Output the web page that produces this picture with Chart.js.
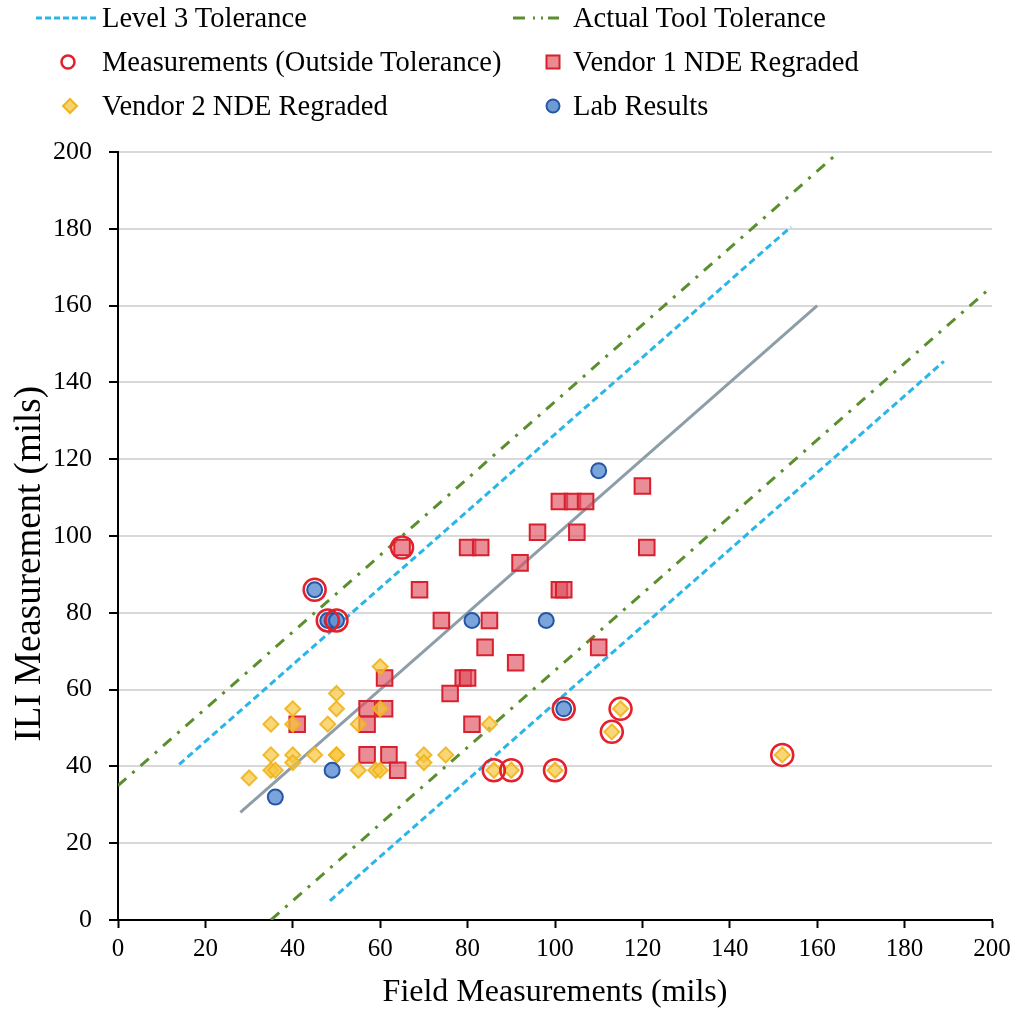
<!DOCTYPE html>
<html>
<head>
<meta charset="utf-8">
<script src="https://cdn.jsdelivr.net/npm/chart.js@4.4.1/dist/chart.umd.min.js"></script>
<style>
  body { margin: 0; background: #fff; }
  #wrap { position: relative; width: 1018px; height: 1012px; }
  .lg { position: absolute; font-family: "Liberation Serif", serif; font-size: 28.5px; color: #000; line-height: 30px; white-space: nowrap; }
  .ic { position: absolute; }
</style>
</head>
<body>
<div id="wrap">
  <canvas id="chart" width="1018" height="1012"></canvas>

  <!-- legend -->
  <svg class="ic" style="left:30px;top:8px" width="72" height="20"><line x1="6" y1="10" x2="68" y2="10" stroke="#29b5e8" stroke-width="3" stroke-dasharray="6,3"/></svg>
  <div class="lg" style="left:102px;top:3px">Level 3 Tolerance</div>
  <svg class="ic" style="left:508px;top:8px" width="56" height="20">
    <line x1="5" y1="10" x2="17" y2="10" stroke="#5b8f2e" stroke-width="3"/>
    <line x1="25" y1="10" x2="27" y2="10" stroke="#5b8f2e" stroke-width="3"/>
    <line x1="33" y1="10" x2="35" y2="10" stroke="#5b8f2e" stroke-width="3"/>
    <line x1="40" y1="10" x2="51" y2="10" stroke="#5b8f2e" stroke-width="3"/>
  </svg>
  <div class="lg" style="left:573px;top:3px">Actual Tool Tolerance</div>

  <svg class="ic" style="left:58px;top:52px" width="20" height="20"><circle cx="10" cy="10" r="6.5" fill="none" stroke="#e3202b" stroke-width="2.5"/></svg>
  <div class="lg" style="left:102px;top:47px">Measurements (Outside Tolerance)</div>
  <svg class="ic" style="left:543px;top:52px" width="20" height="20"><rect x="3.5" y="3.5" width="13" height="13" fill="rgba(225,90,100,0.7)" stroke="#d8202e" stroke-width="2"/></svg>
  <div class="lg" style="left:573px;top:47px">Vendor 1 NDE Regraded</div>

  <svg class="ic" style="left:60px;top:96px" width="20" height="20"><polygon points="10,3 17,10 10,17 3,10" fill="rgba(246,200,70,0.8)" stroke="#f0b41e" stroke-width="2"/></svg>
  <div class="lg" style="left:102px;top:91px">Vendor 2 NDE Regraded</div>
  <svg class="ic" style="left:543px;top:96px" width="20" height="20"><circle cx="10" cy="10" r="6.5" fill="#6e9bd6" stroke="#2456a6" stroke-width="2"/></svg>
  <div class="lg" style="left:573px;top:91px">Lab Results</div>
</div>

<script>
// Field vs ILI depth readings (mils)
const vendor1 = [
  [65, 97], [69, 86], [74, 78], [61, 63], [57, 55], [61, 55], [41, 51], [57, 51],
  [57, 43], [62, 43], [64, 39], [120, 113], [101, 109], [104, 109], [107, 109],
  [96, 101], [105, 101], [80, 97], [83, 97], [121, 97], [92, 93], [101, 86], [102, 86],
  [85, 78], [84, 71], [110, 71], [91, 67], [79, 63], [80, 63], [76, 59], [81, 51]
];
const vendor2 = [
  [60, 66], [50, 59], [50, 55], [40, 55], [60, 55], [35, 51], [40, 51], [48, 51], [55, 51],
  [35, 43], [40, 43], [45, 43], [50, 43], [50, 43], [70, 43], [40, 41], [70, 41],
  [35, 39], [36, 39], [55, 39], [59, 39], [60, 39], [30, 37], [85, 51], [75, 43],
  [86, 39], [90, 39], [100, 39], [115, 55], [113, 49], [152, 43]
];
const labResults = [
  [36, 32], [49, 39], [45, 86], [48, 78], [49, 78], [50, 78], [81, 78], [98, 78], [110, 117], [102, 55]
];
const outsideTol = [
  [65, 97], [45, 86], [48, 78], [50, 78], [102, 55], [115, 55], [113, 49],
  [86, 39], [90, 39], [100, 39], [152, 43]
];

// reference lines (end points)
const oneToOne = [[28, 28], [160, 160]];
const level3Upper = [[14, 40.5], [154, 180.5]];
const level3Lower = [[48.5, 5], [189, 145.5]];
const toolUpper = [[0, 35], [165, 200]];
const toolLower = [[35, 0], [200, 165]];

const xTicks = [0, 20, 40, 60, 80, 100, 120, 140, 160, 180, 200];
const yTicks = [0, 20, 40, 60, 80, 100, 120, 140, 160, 180, 200];

const pts = arr => arr.map(p => ({ x: p[0], y: p[1] }));

function lineSet(data, color, dash, order) {
  return {
    data: pts(data),
    showLine: true,
    borderColor: color,
    borderWidth: 3,
    borderDash: dash,
    pointRadius: 0,
    fill: false,
    order: order
  };
}

const ctx = document.getElementById('chart').getContext('2d');
new Chart(ctx, {
  type: 'scatter',
  data: {
    datasets: [
      {
        label: 'Measurements (Outside Tolerance)',
        data: pts(outsideTol),
        pointStyle: 'circle',
        pointRadius: 11,
        backgroundColor: 'rgba(0,0,0,0)',
        borderColor: '#e3202b',
        borderWidth: 2.5,
        order: 0
      },
      {
        label: 'Lab Results',
        data: pts(labResults),
        pointStyle: 'circle',
        pointRadius: 7.5,
        backgroundColor: 'rgba(100,148,212,0.85)',
        borderColor: '#2456a6',
        borderWidth: 2,
        order: 1
      },
      {
        label: 'Vendor 2 NDE Regraded',
        data: pts(vendor2),
        pointStyle: 'rectRot',
        pointRadius: 7.5,
        backgroundColor: 'rgba(246,196,60,0.7)',
        borderColor: 'rgba(240,180,30,0.9)',
        borderWidth: 2,
        order: 2
      },
      {
        label: 'Vendor 1 NDE Regraded',
        data: pts(vendor1),
        pointStyle: 'rect',
        pointRadius: 11,
        backgroundColor: 'rgba(222,80,95,0.65)',
        borderColor: '#d8202e',
        borderWidth: 2,
        order: 3
      },
      lineSet(oneToOne, '#8d9ea9', [], 4),
      lineSet(level3Upper, '#29b5e8', [7, 4], 5),
      lineSet(level3Lower, '#29b5e8', [7, 4], 5),
      lineSet(toolUpper, '#5b8f2e', [11, 8, 3, 8], 6),
      lineSet(toolLower, '#5b8f2e', [11, 8, 3, 8], 6)
    ]
  },
  options: {
    responsive: false,
    animation: false,
    layout: { padding: { top: 152, right: 26, left: 8, bottom: 0 } },
    plugins: {
      legend: { display: false },
      tooltip: { enabled: false }
    },
    scales: {
      x: {
        type: 'linear',
        min: 0,
        max: 200,
        afterBuildTicks: s => { s.ticks = xTicks.map(v => ({ value: v })); },
        afterFit: s => { s.height = 92; },
        border: { color: '#000', width: 2 },
        grid: { drawOnChartArea: false, tickColor: '#000', tickLength: 8, tickWidth: 2 },
        ticks: { color: '#000', padding: 6, font: { family: 'Liberation Serif', size: 25 } },
        title: {
          display: true,
          text: 'Field Measurements (mils)',
          color: '#000',
          padding: { top: 2, bottom: 0 },
          font: { family: 'Liberation Serif', size: 32 }
        }
      },
      y: {
        type: 'linear',
        min: 0,
        max: 200,
        afterBuildTicks: s => { s.ticks = yTicks.map(v => ({ value: v })); },
        afterFit: s => { s.width = 110; },
        border: { color: '#000', width: 2 },
        grid: { color: '#d9d9d9', lineWidth: 2, tickColor: '#000', tickLength: 9, tickWidth: 2 },
        ticks: { color: '#000', padding: 17, font: { family: 'Liberation Serif', size: 26 } },
        title: {
          display: true,
          // trailing no-break spaces push the centred title down as in the reference
          text: 'ILI Measurement (mils)\u00a0\u00a0\u00a0\u00a0\u00a0\u00a0',
          color: '#000',
          padding: { top: 0, bottom: 8 },
          font: { family: 'Liberation Serif', size: 37 }
        }
      }
    }
  }
});
</script>
</body>
</html>
